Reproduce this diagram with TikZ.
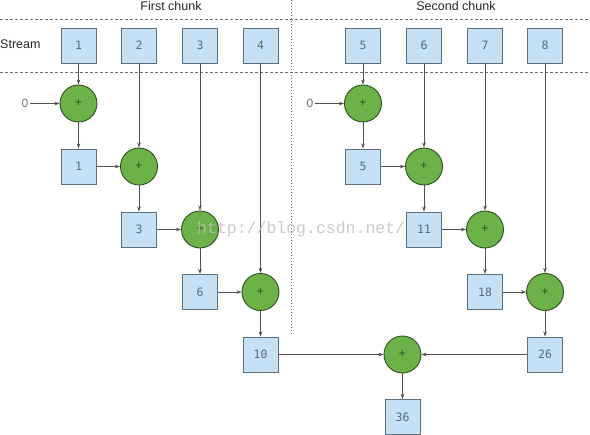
\documentclass[tikz,border=0pt]{standalone}
\usepackage{fontspec}
\setmainfont{Liberation Sans}
\newfontfamily\numfont{DejaVu Sans Mono}
\newfontfamily\wmfont{Liberation Mono}
\usetikzlibrary{arrows.meta}
\definecolor{boxfill}{RGB}{198,224,245}
\definecolor{boxdraw}{RGB}{95,110,125}
\definecolor{boxtext}{RGB}{85,105,130}
\definecolor{circfill}{RGB}{108,178,72}
\definecolor{circdraw}{RGB}{45,80,35}
\definecolor{linecol}{RGB}{80,80,80}
\definecolor{dashcol}{RGB}{110,110,110}
\tikzset{
  valbox/.style={draw=boxdraw, fill=boxfill, line width=0.9pt, minimum size=35pt, inner sep=0pt, text=boxtext, font=\numfont\fontsize{11.5}{13}\selectfont},
  addc/.style={circle, draw=circdraw, fill=circfill, line width=0.9pt, minimum size=37pt, inner sep=0pt, font=\fontsize{12}{13}\selectfont, text=circdraw},
  conn/.style={draw=linecol, line width=0.8pt, -{Stealth[length=5pt,width=3.5pt]}},
  sep/.style={draw=dashcol, line width=0.7pt, dash pattern=on 3pt off 2pt},
  lab/.style={font=\fontsize{12.5}{14}\selectfont, text=black!85},
  zlab/.style={font=\fontsize{12}{13}\selectfont, text=black!55, inner sep=1pt}
}
\begin{document}
\begin{tikzpicture}[x=1pt,y=-1pt]
\useasboundingbox[fill=white] (0,0) rectangle (590,435);
% separators
\coordinate (h1a) at (0,19); \coordinate (h1b) at (590,19);
\coordinate (h2a) at (0,72); \coordinate (h2b) at (590,72);
\coordinate (va) at (291,0); \coordinate (vb) at (291,335);
\draw[sep] (h1a) -- (h1b);
\draw[sep] (h2a) -- (h2b);
\draw[sep, dash pattern=on 1.5pt off 1.5pt, line width=0.9pt] (va) -- (vb);
% titles
\node[lab] (fc) at (171,6.5) {First chunk};
\node[lab] (sc) at (456,6.5) {Second chunk};
\node[lab, anchor=west, inner sep=0pt] (st) at (0,44.5) {Stream};
% top stream boxes
\foreach \i/\x in {1/78.5,2/139,3/200,4/260.5,5/363,6/424,7/485,8/545}
  \node[valbox] (t\i) at (\x,45.5) {\i};
% first chunk
\node[addc] (c1) at (78.5,103.5) {+};
\node[zlab] (z1) at (25,103.5) {0};
\node[valbox] (r1) at (78.5,166.5) {1};
\node[addc] (c2) at (139,166.5) {+};
\node[valbox] (r2) at (139,229.5) {3};
\node[addc] (c3) at (200,229.5) {+};
\node[valbox] (r3) at (200,292) {6};
\node[addc] (c4) at (260.5,292) {+};
\node[valbox] (r4) at (260.5,354.5) {10};
% second chunk
\node[addc] (c5) at (363,103.5) {+};
\node[zlab] (z2) at (310,103.5) {0};
\node[valbox] (r5) at (363,166.5) {5};
\node[addc] (c6) at (424,166.5) {+};
\node[valbox] (r6) at (424,229.5) {11};
\node[addc] (c7) at (485,229.5) {+};
\node[valbox] (r7) at (485,292) {18};
\node[addc] (c8) at (545,292) {+};
\node[valbox] (r8) at (545,354.5) {26};
% final
\node[addc] (cf) at (402.5,354.5) {+};
\node[valbox] (res) at (402.5,417) {36};
% connectors first chunk
\draw[conn] (z1) -- (c1);
\draw[conn] (t1) -- (c1);
\draw[conn] (c1) -- (r1);
\draw[conn] (r1) -- (c2);
\draw[conn] (t2) -- (c2);
\draw[conn] (c2) -- (r2);
\draw[conn] (r2) -- (c3);
\draw[conn] (t3) -- (c3);
\draw[conn] (c3) -- (r3);
\draw[conn] (r3) -- (c4);
\draw[conn] (t4) -- (c4);
\draw[conn] (c4) -- (r4);
% connectors second chunk
\draw[conn] (z2) -- (c5);
\draw[conn] (t5) -- (c5);
\draw[conn] (c5) -- (r5);
\draw[conn] (r5) -- (c6);
\draw[conn] (t6) -- (c6);
\draw[conn] (c6) -- (r6);
\draw[conn] (r6) -- (c7);
\draw[conn] (t7) -- (c7);
\draw[conn] (c7) -- (r7);
\draw[conn] (r7) -- (c8);
\draw[conn] (t8) -- (c8);
\draw[conn] (c8) -- (r8);
% final
\draw[conn] (r4) -- (cf);
\draw[conn] (r8) -- (cf);
\draw[conn] (cf) -- (res);
% watermark
\node[font=\wmfont\fontsize{16.5}{18}\selectfont, text=black!25, opacity=0.8, anchor=west, inner sep=0pt] (wm) at (197,229) {http://blog.csdn.net/};
\end{tikzpicture}
\end{document}
